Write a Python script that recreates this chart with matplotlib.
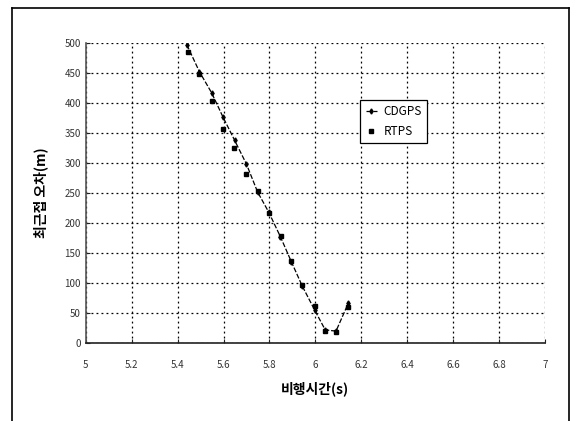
import matplotlib.pyplot as plt
from matplotlib.lines import Line2D

plt.rcParams['font.family'] = ['Noto Sans CJK KR', 'DejaVu Sans']

# flight time (s)
t_cdgps = [5.44, 5.495, 5.548, 5.597, 5.648, 5.70, 5.748, 5.797, 5.848, 5.896, 5.943, 5.997, 6.043, 6.09, 6.143]
cdgps = [497, 452, 417, 377, 338, 298, 252, 218, 177, 135, 95, 55, 22, 20, 66]

t_rtps = [5.445, 5.495, 5.548, 5.597, 5.645, 5.70, 5.748, 5.797, 5.85, 5.896, 5.943, 5.997, 6.043, 6.09, 6.143]
rtps = [485, 449, 403, 357, 325, 282, 254, 216, 178, 136, 96, 62, 21, 19, 60]

xticks = [5.0, 5.2, 5.4, 5.6, 5.8, 6.0, 6.2, 6.4, 6.6, 6.8, 7.0]
xticklabels = ['5', '5.2', '5.4', '5.6', '5.8', '6', '6.2', '6.4', '6.6', '6.8', '7']
yticks = list(range(0, 501, 50))

fig = plt.figure(figsize=(5.76, 4.21), dpi=100)
ax = fig.add_axes([0.149, 0.185, 0.797, 0.713])

ax.plot(t_cdgps, cdgps, color='black', lw=0.9, ls=(0, (4, 1.5)),
        marker='d', ms=2.6, label='CDGPS')
ax.plot(t_rtps, rtps, color='black', lw=0, marker='s', ms=2.5, label='RTPS')

ax.set_xlim(5, 7)
ax.set_ylim(0, 500)
ax.set_xticks(xticks)
ax.set_xticklabels(xticklabels)
ax.set_yticks(yticks)
ax.tick_params(labelsize=7, direction='in', length=3, width=0.8,
               colors='#222222', labelcolor='#333333')
ax.tick_params(axis='x', pad=12)
ax.grid(True, color='black', ls=(0, (1.5, 2.5)), lw=0.9)

for s in ['top', 'right']:
    ax.spines[s].set_visible(False)
ax.spines['left'].set_color('#555555')
ax.spines['bottom'].set_color('#222222')
ax.spines['left'].set_linewidth(1.2)
ax.spines['bottom'].set_linewidth(1.2)

ax.set_xlabel('비행시간(s)', fontsize=10, fontweight='bold', labelpad=8)
ax.set_ylabel('최근접 오차(m)', fontsize=10, fontweight='bold', labelpad=12)

leg = ax.legend(loc='upper left', bbox_to_anchor=(0.585, 0.83), fontsize=8.5,
                frameon=True, fancybox=False, edgecolor='black',
                handlelength=1.0, borderpad=0.45, labelspacing=0.55,
                handletextpad=0.5, framealpha=1)
leg.get_frame().set_linewidth(0.9)

# outer chart frame
for xs, ys in [([0.021, 0.021], [0.0, 0.981]),
               ([0.021, 0.988], [0.981, 0.981]),
               ([0.988, 0.988], [0.0, 0.981])]:
    fig.add_artist(Line2D(xs, ys, transform=fig.transFigure, color='black', lw=1.2))

fig.savefig('out.png', dpi=100)
